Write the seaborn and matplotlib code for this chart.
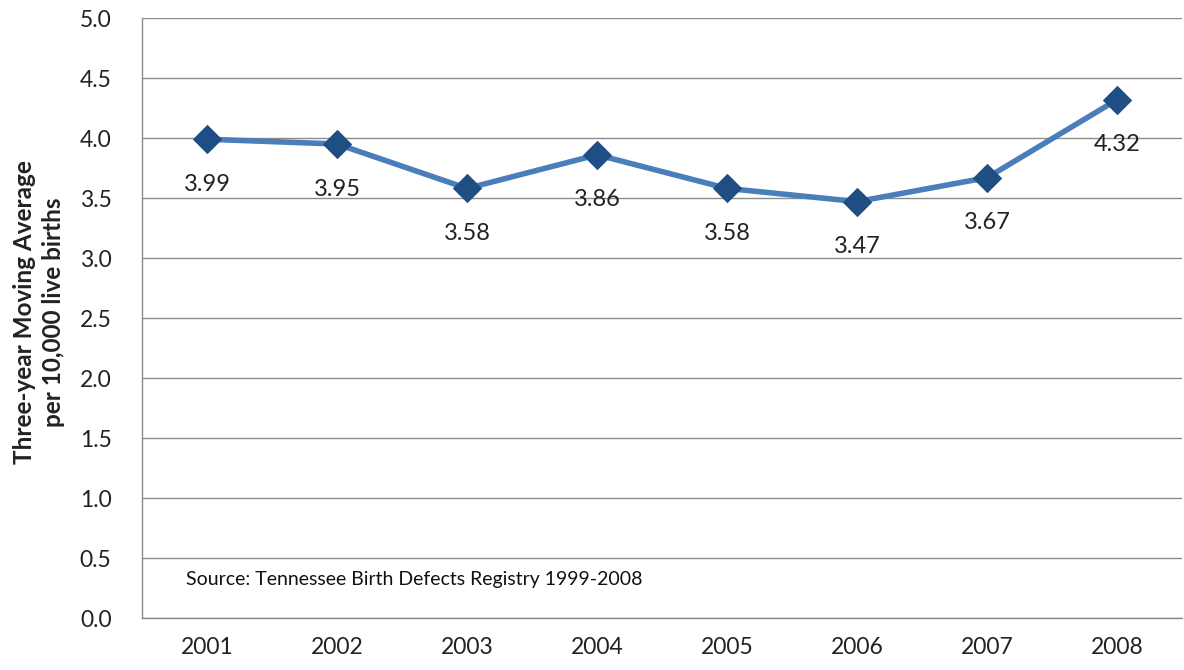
import matplotlib
matplotlib.use("Agg")
import matplotlib.pyplot as plt
import seaborn as sns
import pandas as pd

# Three-year moving average of the rate per 10,000 live births
years = ["2001", "2002", "2003", "2004", "2005", "2006", "2007", "2008"]
rates = [3.99, 3.95, 3.58, 3.86, 3.58, 3.47, 3.67, 4.32]
y_ticks = [0.0, 0.5, 1.0, 1.5, 2.0, 2.5, 3.0, 3.5, 4.0, 4.5, 5.0]

sns.set_theme(style="white")
plt.rcParams["font.family"] = ["Lato", "DejaVu Sans"]

df = pd.DataFrame({"year": years, "rate": rates})

fig = plt.figure(figsize=(11.84, 6.70), dpi=100)
ax = fig.add_axes([0.12, 0.0776, 0.8785, 0.8955])

sns.lineplot(data=df, x="year", y="rate", ax=ax, color="#4A7EBB",
             linewidth=4, marker="D", markersize=14.5,
             markerfacecolor="#1F4E85", markeredgecolor="#1F4E85",
             sort=False)

# value labels sit below each point
for i, v in enumerate(rates):
    ax.annotate(f"{v:.2f}", xy=(i, v), xytext=(0, -45),
                textcoords="offset pixels",
                ha="center", va="center", fontsize=17, color="#222222")

ax.set_xlim(-0.5, len(years) - 0.5)
ax.set_ylim(0, 5)
ax.set_yticks(y_ticks)
ax.set_yticklabels([f"{t:.1f}" for t in y_ticks])
ax.yaxis.grid(True, color="#8C8C8C", linewidth=1)
ax.set_axisbelow(True)

for side in ("top", "right"):
    ax.spines[side].set_visible(False)
for side in ("left", "bottom"):
    ax.spines[side].set_color("#8C8C8C")
    ax.spines[side].set_linewidth(1)

ax.tick_params(axis="both", length=0, labelsize=16.5, colors="#222222")
ax.tick_params(axis="y", pad=22)
ax.tick_params(axis="x", pad=14)

ax.set_xlabel("")
ax.set_ylabel("Three-year Moving Average\nper 10,000 live births",
              fontsize=17.5, fontweight="bold", color="#222222",
              linespacing=1.3)
ax.yaxis.set_label_coords(-0.074, 0.51)

ax.text(0.042, 0.065, "Source: Tennessee Birth Defects Registry 1999-2008",
        transform=ax.transAxes, fontsize=14, color="#111111",
        ha="left", va="center")

fig.savefig("out.png", dpi=100)
